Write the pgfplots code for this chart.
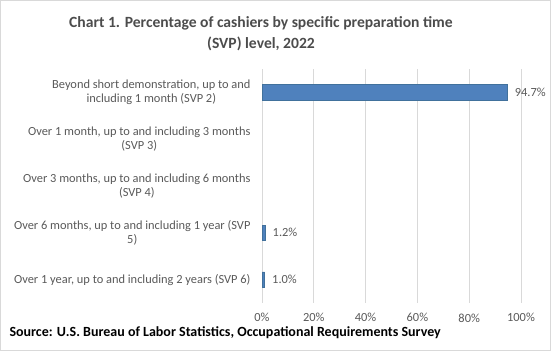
\documentclass[border=0pt]{standalone}
\usepackage{pgfplots}
\pgfplotsset{compat=1.18}
\usepackage{fontspec}
\setmainfont{Carlito}
\definecolor{txt}{HTML}{595959}
\definecolor{barfill}{HTML}{4F81BD}
\definecolor{barline}{HTML}{41719C}
\definecolor{gridc}{HTML}{D9D9D9}
\definecolor{framec}{HTML}{D9D9D9}
\pgfplotstableread{
idx value
0 94.7
1 0
2 0
3 1.2
4 1.0
}\svpdata
\begin{document}
\begin{tikzpicture}
\path[use as bounding box] (0pt,0pt) rectangle (551pt,351pt);
\draw[framec, line width=0.8pt] (0.4pt,0.4pt) rectangle (550.6pt,350.6pt);
\node[font=\fontsize{15.6}{18}\selectfont\bfseries, text=txt!85!black] at (261pt,328pt) {Chart 1. Percentage of cashiers by specific preparation time};
\node[font=\fontsize{15.6}{18}\selectfont\bfseries, text=txt!85!black] at (261pt,307pt) {(SVP) level, 2022};
\begin{axis}[
  at={(262pt,48pt)}, anchor=south west,
  width=259pt, height=234pt, scale only axis,
  xbar, bar width=15.5pt,
  xmin=0, xmax=100,
  ymin=-0.5, ymax=4.5, y dir=reverse,
  xtick={0,20,40,60,80,100},
  xticklabel={\pgfmathprintnumber{\tick}\%},
  ytick={0,1,2,3,4},
  yticklabels={{Beyond short demonstration, up to and\\including 1 month (SVP 2)},
               {Over 1 month, up to and including 3 months\\(SVP 3)},
               {Over 3 months, up to and including 6 months\\(SVP 4)},
               {Over 6 months, up to and including 1 year (SVP\\5)},
               {Over 1 year, up to and including 2 years (SVP 6)}},
  yticklabel style={align=center, font=\fontsize{12.4}{14.5}\selectfont, text=txt, xshift=-8pt},
  xticklabel style={font=\fontsize{12.4}{14}\selectfont, text=txt, yshift=-7pt},
  /pgf/number format/assume math mode=true,
  axis line style={draw=none},
  major tick length=0pt,
  xmajorgrids, grid style={gridc, line width=0.8pt},
  nodes near coords={\pgfmathprintnumber[fixed,fixed zerofill,precision=1]{\pgfplotspointmeta}\%},
  nodes near coords style={font=\fontsize{12.4}{14}\selectfont, text=txt, xshift=4pt},
  point meta=x,
]
\addplot[fill=barfill, draw=barline, line width=0.6pt,
  restrict x to domain=0.001:200, unbounded coords=discard]
  table[x=value, y=idx] {\svpdata};
\end{axis}
\node[anchor=west, font=\fontsize{14}{16}\selectfont\bfseries, text=black] at (6pt,18pt) {Source: U.S. Bureau of Labor Statistics, Occupational Requirements Survey};
\end{tikzpicture}
\end{document}
